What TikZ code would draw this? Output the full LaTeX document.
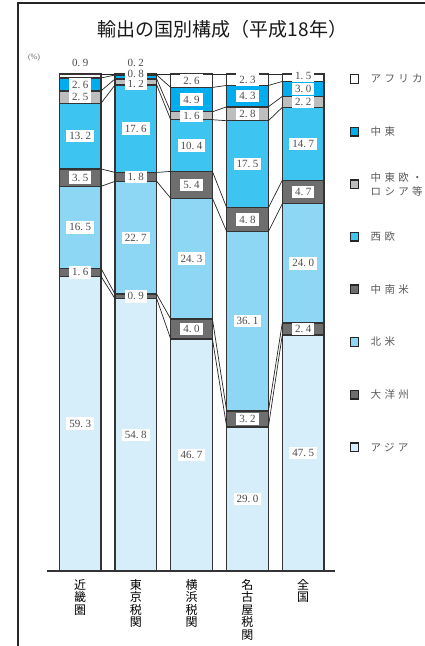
\documentclass[tikz,border=0pt]{standalone}
\usepackage{fontspec}
\usetikzlibrary{positioning}
\newfontfamily\jpfont{Noto Sans CJK JP}
\newfontfamily\jpwide[LetterSpace=32]{Noto Sans CJK JP}
\newfontfamily\numfont{Liberation Serif}
\definecolor{seg1}{HTML}{D6EEFA}
\definecolor{seg2}{HTML}{6E6E6E}
\definecolor{seg3}{HTML}{8DD7F5}
\definecolor{seg4}{HTML}{6E6E6E}
\definecolor{seg5}{HTML}{3EC4F0}
\definecolor{seg6}{HTML}{BEBEBE}
\definecolor{seg7}{HTML}{00AEEF}
\definecolor{seg8}{HTML}{FFFFFF}
\def\splitnum#1.#2\relax{#1.\hspace{2.5pt}#2}
\pgfdeclarelayer{front}
\pgfsetlayers{main,front}
\begin{document}
\begin{tikzpicture}[x=1pt, y=-1pt,
   seg/.style={draw=black!80, line width=1.4pt},
   link/.style={draw=black!85, line width=0.7pt},
   val/.style={fill=white, text=black!70, inner xsep=3pt, inner ysep=2.5pt,
               font=\numfont\fontsize{11}{11}\selectfont},
   key/.style={draw=black!85, line width=1.4pt, minimum size=8.5pt, inner sep=0pt},
   keytext/.style={text=black!65, align=left, inner sep=0pt,
                   font=\jpwide\fontsize{10.5}{14}\selectfont},
   region/.style={anchor=north, align=center, inner sep=0pt,
                  font=\jpfont\fontsize{12}{12.5}\selectfont}]

\useasboundingbox (0,0) rectangle (425,646);
\draw[line width=1.6pt, black!85] (18,646) -- (18,3) -- (425,3);

\node[font=\jpfont\fontsize{19}{19}\selectfont, text=black!90] (title) at (222.5,29)
   {輸出の国別構成（平成18年）};
\node[text=black!60, font=\numfont\fontsize{8}{8}\selectfont] (unit) at (34,58) {(\%)};

% stacked bars, bottom to top
\foreach \b/\x/\data in {
   1/59.3/{59.3/0,1.6/0,16.5/0,3.5/0,13.2/0,2.5/0,2.6/0,0.9/-13},
   2/115/{54.8/0,0.9/0,22.7/0,1.8/0,17.6/0,1.2/2,0.8/-3,0.2/-12},
   3/170.7/{46.7/0,4.0/0,24.3/0,5.4/0,10.4/0,1.6/0,4.9/0,2.6/0},
   4/226.7/{29.0/0,3.2/0,36.1/0,4.8/0,17.5/0,2.8/0,4.3/0,2.3/0},
   5/282.3/{47.5/0,2.4/0,24.0/0,4.7/0,14.7/0,2.2/0,3.0/0,1.5/-2}}
{
   \gdef\cum{0}
   \foreach \v/\dy [count=\k] in \data {
      \pgfmathsetmacro\lo{571-4.97*\cum}
      \pgfmathsetmacro\newcum{\k==8 ? 100 : \cum+\v}
      \pgfmathsetmacro\hi{571-4.97*\newcum}
      \draw[seg, fill=seg\k] (\x,\lo) rectangle (\x+41.7,\hi);
      \coordinate (b\b-l\k) at (\x,\hi);
      \coordinate (b\b-r\k) at (\x+41.7,\hi);
      \begin{pgfonlayer}{front}
         \node[val] (v\b-\k) at (\x+20.85,{(\lo+\hi)/2+\dy}) {\expandafter\splitnum\v\relax};
      \end{pgfonlayer}
      \xdef\cum{\newcum}
   }
}

\foreach \b [evaluate=\b as \n using int(\b+1)] in {1,...,4}
   \foreach \k in {1,...,8}
      \draw[link] (b\b-r\k) -- (b\n-l\k);

\draw[line width=1.3pt, black!80] (47,571) -- (335,571);

\foreach \name [count=\b] in {{近\\畿\\圏},{東\\京\\税\\関},{横\\浜\\税\\関},{名\\古\\屋\\税\\関},{全\\国}}
   \node[region] (region\b) at ({80.15+55.75*(\b-1)},579) {\name};

% legend
\foreach \k/\name [count=\i] in {8/アフリカ,7/中東,6/{中東欧・\\ロシア等},5/西欧,4/中南米,3/北米,2/大洋州,1/アジア}{
   \node[key, fill=seg\k] (key\k) at (354.5,{79+52.6*(\i-1)}) {};
   \node[keytext, right=11pt of key\k] (name\k) {\name};
}

\end{tikzpicture}
\end{document}
